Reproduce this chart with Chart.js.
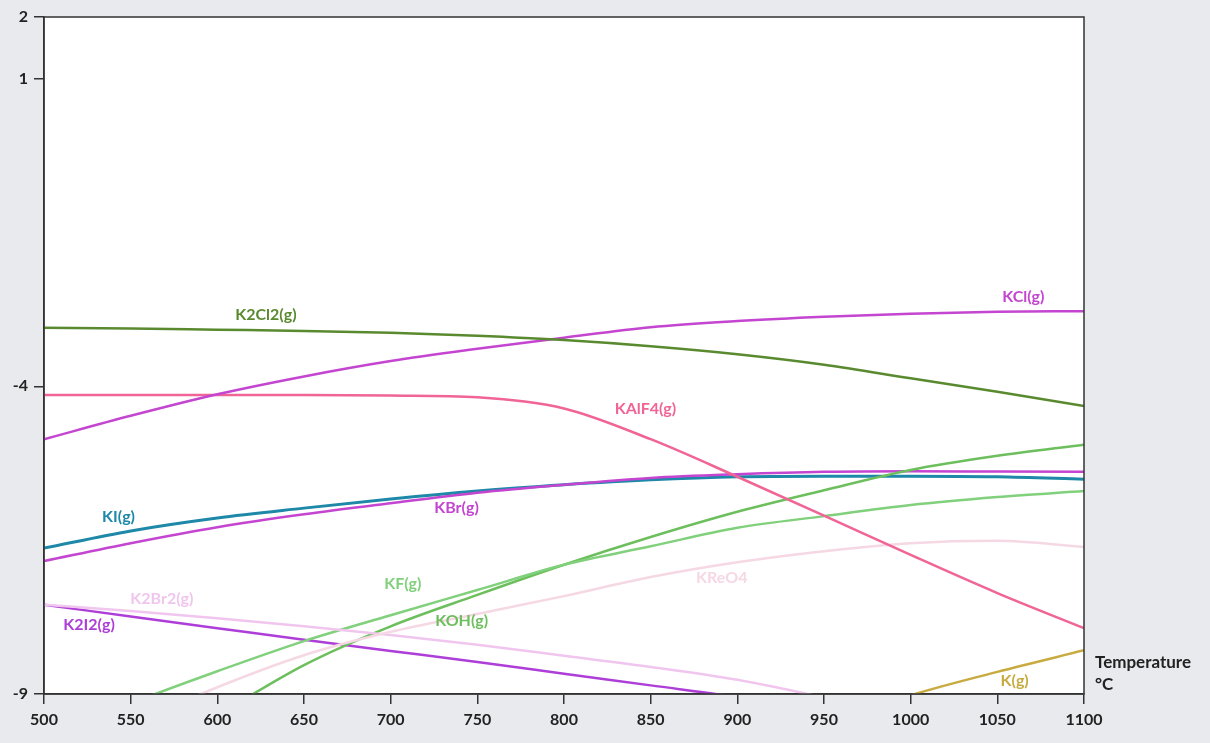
<!DOCTYPE html>
<html lang="en">
<head>
    <meta charset="UTF-8">
    <title>Partial pressures vs temperature</title>
    <script src="https://cdn.jsdelivr.net/npm/chart.js"></script>
    <style>
        html, body { margin: 0; padding: 0; background: #e9eaee; }
        .wrap { width: 1210px; height: 743px; }
    </style>
</head>
<body>
    <div class="wrap"><canvas id="myChart" width="1210" height="743"></canvas></div>

    <script>
        // temperatures (°C)
        const temps = [500, 550, 600, 650, 700, 750, 800, 850, 900, 950, 1000, 1050, 1100];
        const yTickValues = [2, 1, -4, -9];

        // series values
        const k2cl2 = [-3.05, -3.06, -3.08, -3.10, -3.13, -3.18, -3.25, -3.35, -3.48, -3.65, -3.87, -4.09, -4.32];
        const kcl   = [-4.86, -4.48, -4.13, -3.84, -3.59, -3.39, -3.21, -3.04, -2.94, -2.87, -2.82, -2.79, -2.78];
        const kalf4 = [-4.14, -4.14, -4.14, -4.14, -4.15, -4.18, -4.36, -4.86, -5.47, -6.10, -6.74, -7.36, -7.93];
        const ki    = [-6.63, -6.35, -6.14, -5.98, -5.83, -5.70, -5.60, -5.52, -5.47, -5.46, -5.46, -5.47, -5.51];
        const kbr   = [-6.84, -6.55, -6.29, -6.08, -5.90, -5.73, -5.60, -5.49, -5.43, -5.39, -5.38, -5.385, -5.39];
        const kf    = [-9.70, -9.15, -8.63, -8.14, -7.72, -7.31, -6.90, -6.60, -6.30, -6.11, -5.93, -5.80, -5.70];
        const koh   = [-11.0, -10.2, -9.35, -8.53, -7.90, -7.39, -6.90, -6.45, -6.04, -5.69, -5.36, -5.13, -4.95];
        const kreo4 = [-10.1, -9.50, -8.89, -8.37, -7.99, -7.70, -7.41, -7.10, -6.86, -6.68, -6.55, -6.51, -6.61];
        const k2br2 = [-7.55, -7.65, -7.77, -7.90, -8.04, -8.20, -8.38, -8.56, -8.77, -9.06, -9.40, null, null];
        const k2i2  = [-7.55, -7.74, -7.93, -8.12, -8.30, -8.48, -8.67, -8.86, -9.05, -9.30, null, null, null];
        const kg    = [null, null, null, null, null, null, null, null, null, -9.50, -9.02, -8.64, -8.29];

        // label anchors: [text, temperature, value]
        const seriesLabels = [
            ["K2Cl2(g)", 628, -2.84],
            ["KCl(g)", 1065, -2.55],
            ["KAlF4(g)", 847, -4.37],
            ["KI(g)", 543, -6.12],
            ["KBr(g)", 738, -5.98],
            ["KF(g)", 707, -7.21],
            ["KOH(g)", 741, -7.81],
            ["KReO4", 891, -7.12],
            ["K2Br2(g)", 568, -7.46],
            ["K2I2(g)", 526, -7.88],
            ["K(g)", 1060, -8.79]
        ];

        const colors = {
            "K2Cl2(g)": "#5a8a30",
            "KCl(g)": "#c445d0",
            "KAlF4(g)": "#f06496",
            "KI(g)": "#1e88a8",
            "KBr(g)": "#c445d0",
            "KF(g)": "#80d07c",
            "KOH(g)": "#6cbf5c",
            "KReO4": "#f5d8e4",
            "K2Br2(g)": "#f0c6ee",
            "K2I2(g)": "#ae3ed8",
            "K(g)": "#c8ab40"
        };

        const fontFamily = "Lato, 'Open Sans', sans-serif";

        function toPoints(values) {
            return temps.map((t, i) => ({ x: t, y: values[i] }));
        }

        function ds(name, values, width) {
            return {
                label: name,
                data: toPoints(values),
                borderColor: colors[name],
                backgroundColor: colors[name],
                borderWidth: width || 2.5,
                pointRadius: 0,
                cubicInterpolationMode: "monotone",
                fill: false
            };
        }

        // white plot area with black frame
        const plotFrame = {
            id: "plotFrame",
            beforeDraw(chart) {
                const { ctx, chartArea: a } = chart;
                ctx.save();
                ctx.fillStyle = "#ffffff";
                ctx.fillRect(a.left, a.top, a.right - a.left, a.bottom - a.top);
                ctx.restore();
            },
            afterDraw(chart) {
                const { ctx, chartArea: a } = chart;
                ctx.save();
                ctx.strokeStyle = "#333333";
                ctx.lineWidth = 1.5;
                ctx.strokeRect(a.left, a.top, a.right - a.left, a.bottom - a.top);

                // series labels
                ctx.font = "bold 16px " + fontFamily;
                ctx.textAlign = "center";
                ctx.textBaseline = "middle";
                seriesLabels.forEach(([txt, t, v]) => {
                    ctx.fillStyle = colors[txt];
                    ctx.fillText(txt, chart.scales.x.getPixelForValue(t), chart.scales.y.getPixelForValue(v));
                });

                // axis title
                ctx.fillStyle = "#222222";
                ctx.textAlign = "left";
                ctx.font = "bold 17px " + fontFamily;
                ctx.fillText("Temperature", a.right + 11, a.bottom - 31);
                ctx.fillText("°C", a.right + 11, a.bottom - 9);
                ctx.restore();
            }
        };

        const ctx = document.getElementById("myChart").getContext("2d");
        new Chart(ctx, {
            type: "line",
            data: {
                datasets: [
                    ds("K2Cl2(g)", k2cl2),
                    ds("KCl(g)", kcl),
                    ds("KAlF4(g)", kalf4),
                    ds("KReO4", kreo4),
                    ds("K2Br2(g)", k2br2),
                    ds("KF(g)", kf),
                    ds("KOH(g)", koh),
                    ds("KBr(g)", kbr),
                    ds("KI(g)", ki, 3),
                    ds("K2I2(g)", k2i2),
                    ds("K(g)", kg)
                ]
            },
            options: {
                responsive: false,
                animation: false,
                layout: { padding: { top: 17, right: 126, left: 0, bottom: 0 } },
                plugins: {
                    legend: { display: false },
                    tooltip: { enabled: false }
                },
                scales: {
                    x: {
                        type: "linear",
                        min: 500,
                        max: 1100,
                        ticks: {
                            stepSize: 50,
                            color: "#222222",
                            font: { family: fontFamily, size: 16, weight: "bold" },
                            padding: 6,
                            callback: v => String(v)
                        },
                        grid: { drawOnChartArea: false, tickLength: 10, color: "#333333", lineWidth: 1.5 },
                        border: { color: "#333333", width: 1.5 },
                        afterFit(scale) { scale.height = 49; }
                    },
                    y: {
                        type: "linear",
                        min: -9,
                        max: 2,
                        afterBuildTicks(scale) {
                            scale.ticks = yTickValues.map(v => ({ value: v }));
                        },
                        ticks: {
                            color: "#222222",
                            font: { family: fontFamily, size: 16, weight: "bold" },
                            padding: 6,
                            callback: v => String(v)
                        },
                        grid: { drawOnChartArea: false, tickLength: 10, color: "#333333", lineWidth: 1.5 },
                        border: { color: "#333333", width: 1.5 },
                        afterFit(scale) { scale.width = 44; }
                    }
                }
            },
            plugins: [plotFrame]
        });
    </script>
</body>
</html>
